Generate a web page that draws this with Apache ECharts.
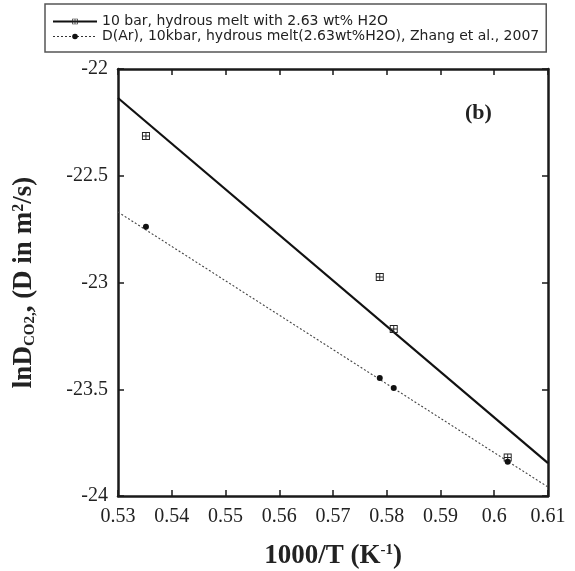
<!DOCTYPE html>
<html lang="en">
<head>
    <meta charset="UTF-8">
    <title>lnD CO2 vs 1000/T</title>
    <script src="https://cdn.jsdelivr.net/npm/echarts@6/dist/echarts.min.js"></script>
    <style>
        body { margin: 0; background: #fff; }
    </style>
</head>
<body>
 <div id="myChart" style="width: 575px;height: 571px;"></div>
 <script>
     // measured points, 10 bar melt
     var xMelt = [0.5352, 0.5787, 0.5813, 0.6025];
     var yMelt = [-22.314, -22.974, -23.218, -23.82];
     // D(Ar) from Zhang et al. 2007
     var xAr = [0.5352, 0.5787, 0.5813, 0.6025];
     var yAr = [-22.739, -23.447, -23.494, -23.84];
     // fitted lines (end points at the axis edges)
     var fitMeltX = [0.53, 0.61];
     var fitMeltY = [-22.136, -23.846];
     var fitArX = [0.53, 0.61];
     var fitArY = [-22.67, -23.958];

     var names = ['10 bar, hydrous melt with 2.63 wt% H2O',
                  'D(Ar), 10kbar, hydrous melt(2.63wt%H2O), Zhang et al., 2007'];

     function pairs(xs, ys) {
         return xs.map(function (x, i) { return [x, ys[i]]; });
     }

     var boxSymbol = 'path://M0,0H10V10H0Z M1.2,1.2V8.8H8.8V1.2Z M4.4,1H5.6V9H4.4Z M1,4.4H9V5.6H1Z';
     var axisCol = '#1a1a1a';
     var serif = '"Times New Roman", "Liberation Serif", serif';

     option = {
         animation: false,
         grid: { left: 118, right: 27, top: 69, bottom: 75, outerBoundsMode: 'none', containLabel: false },
         title: {
             text: '(b)',
             left: 465, top: 102, padding: 0,
             textStyle: { fontFamily: serif, fontSize: 22, fontWeight: 'bold', color: '#222' }
         },
         legend: {
             data: [
                 { name: names[0], lineStyle: { opacity: 1, width: 2, color: '#111', type: 'solid' } },
                 { name: names[1], lineStyle: { opacity: 1, width: 1, color: '#333', type: [2, 2] } }
             ],
             orient: 'vertical',
             left: 45, top: 4,
             padding: [10, 7, 8, 7],
             itemWidth: 44, itemHeight: 7, itemGap: 0,
             borderColor: '#555', borderWidth: 1.5,
             textStyle: { fontFamily: 'DejaVu Sans', fontSize: 14, color: '#222', lineHeight: 15 }
         },
         xAxis: [
             {
                 type: 'value', min: 0.53, max: 0.61, interval: 0.01,
                 name: '{b|1000/T (K}{sup|-1}{b|)}',
                 nameLocation: 'middle', nameGap: 47,
                 nameTextStyle: {
                     rich: {
                         b: { fontFamily: serif, fontSize: 27, fontWeight: 'bold', color: '#222' },
                         sup: { fontFamily: serif, fontSize: 15, fontWeight: 'bold', color: '#222', verticalAlign: 'top', padding: [0, 0, 11, 0] }
                     }
                 },
                 axisLine: { onZero: false, lineStyle: { color: axisCol, width: 2.5 } },
                 axisTick: { inside: true, length: 6, lineStyle: { width: 1.5 } },
                 axisLabel: { fontFamily: serif, fontSize: 20, color: '#222', margin: 11 },
                 splitLine: { show: false }
             },
             {
                 type: 'value', position: 'top', min: 0.53, max: 0.61, interval: 0.01,
                 axisLine: { onZero: false, lineStyle: { color: axisCol, width: 2.5 } },
                 axisTick: { inside: true, length: 6, lineStyle: { width: 1.5 } },
                 axisLabel: { show: false },
                 splitLine: { show: false }
             }
         ],
         yAxis: [
             {
                 type: 'value', min: -24, max: -22, interval: 0.5,
                 name: '{b|lnD}{s|CO2,}{b|, (D in m}{sup|2}{b|/s)}',
                 nameLocation: 'middle', nameGap: 80, nameRotate: 90,
                 nameTextStyle: {
                     rich: {
                         b: { fontFamily: serif, fontSize: 27, fontWeight: 'bold', color: '#222' },
                         s: { fontFamily: serif, fontSize: 15, fontWeight: 'bold', color: '#222', verticalAlign: 'bottom', padding: [9, 0, 0, 0] },
                         sup: { fontFamily: serif, fontSize: 16, fontWeight: 'bold', color: '#222', verticalAlign: 'top', padding: [0, 0, 11, 0] }
                     }
                 },
                 axisLine: { onZero: false, lineStyle: { color: axisCol, width: 2.5 } },
                 axisTick: { inside: true, length: 6, lineStyle: { width: 1.5 } },
                 axisLabel: { fontFamily: serif, fontSize: 20, color: '#222', margin: 10 },
                 splitLine: { show: false }
             },
             {
                 type: 'value', position: 'right', min: -24, max: -22, interval: 0.5,
                 axisLine: { onZero: false, lineStyle: { color: axisCol, width: 2.5 } },
                 axisTick: { inside: true, length: 6, lineStyle: { width: 1.5 } },
                 axisLabel: { show: false },
                 splitLine: { show: false }
             }
         ],
         series: [
             {
                 name: 'fit melt', type: 'line', symbol: 'none',
                 data: pairs(fitMeltX, fitMeltY),
                 lineStyle: { color: '#111', width: 2.2 }
             },
             {
                 name: 'fit Ar', type: 'line', symbol: 'none',
                 data: pairs(fitArX, fitArY),
                 lineStyle: { color: '#444', width: 1.1, type: [2, 2] }
             },
             {
                 name: names[0], type: 'line',
                 data: pairs(xMelt, yMelt),
                 symbol: boxSymbol, symbolSize: 8,
                 itemStyle: { color: '#222' },
                 lineStyle: { opacity: 0 }
             },
             {
                 name: names[1], type: 'line',
                 data: pairs(xAr, yAr),
                 symbol: 'circle', symbolSize: 6,
                 itemStyle: { color: '#111' },
                 lineStyle: { opacity: 0 }
             }
         ]
     };
     var myChart = echarts.init(document.getElementById('myChart'));
     myChart.setOption(option);
 </script>
</body>
</html>
